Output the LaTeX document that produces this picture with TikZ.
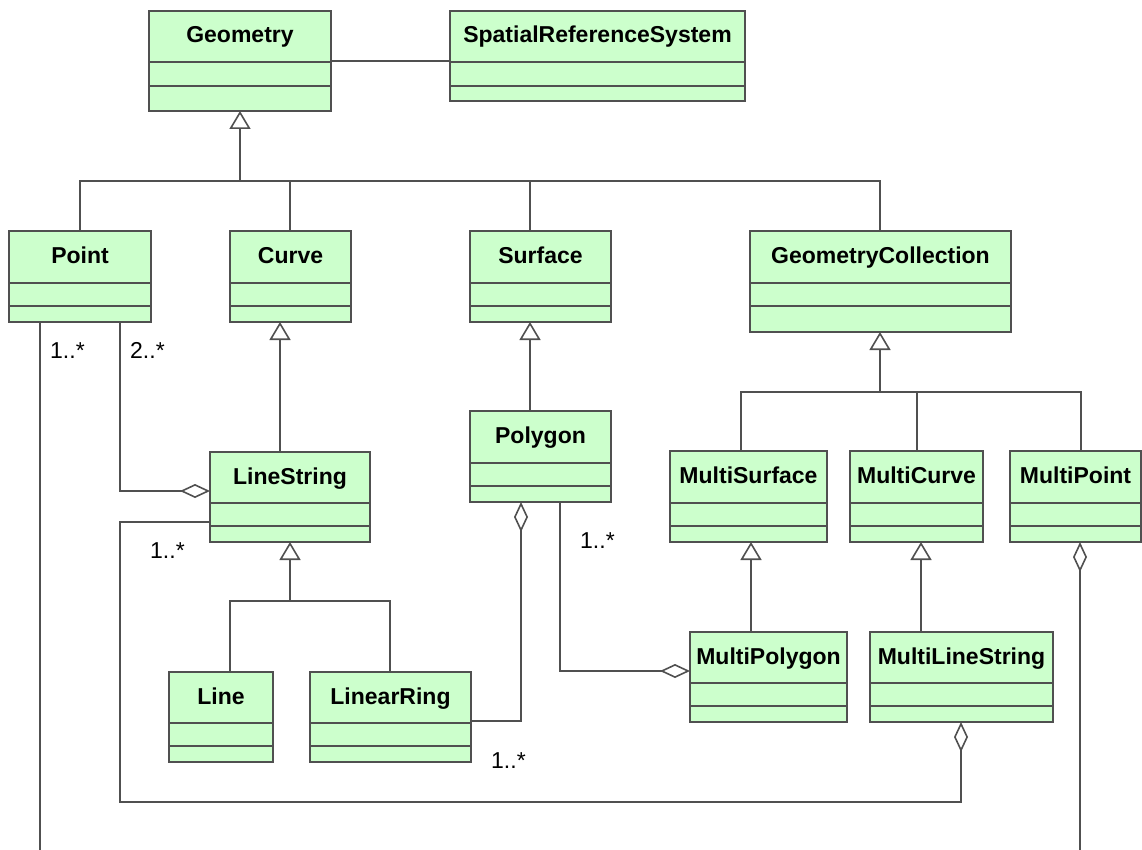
\documentclass[tikz,border=0pt]{standalone}
\usepackage{fontspec}
\setmainfont{Liberation Sans}
\usetikzlibrary{arrows.meta}
\definecolor{boxfill}{HTML}{CCFFCC}
\definecolor{lc}{HTML}{505050}
\tikzset{
  clsbox/.style={draw=lc, fill=boxfill, line width=1.6pt, inner sep=0pt, outer sep=0pt},
  clsline/.style={draw=lc, line width=1.6pt},
  clsname/.style={font=\fontsize{23}{27}\selectfont\bfseries, text=black, inner sep=0pt},
  mult/.style={font=\fontsize{23}{27}\selectfont, text=black, inner sep=0pt, anchor=base west},
  conn/.style={draw=lc, line width=1.6pt, line join=miter},
  gen/.style={conn, -{Triangle[length=18pt,width=21pt,fill=white]}},
  agg/.style={conn, -{Diamond[length=30pt,width=14pt,fill=white]}},
}
\newcommand{\umlcls}[7]{%
  \node[clsbox, minimum width={#4-#2}, minimum height={#5-#3}] (#1) at ({(#2+#4)/2},{(#3+#5)/2}) {};
  \draw[clsline] (#1.west |- 0,#6) -- (#1.east |- 0,#6) (#1.west |- 0,#7) -- (#1.east |- 0,#7);
  \node[clsname, anchor=base] (#1-name) at ({(#2+#4)/2},{#3+32}) {#1};
}
\begin{document}
\begin{tikzpicture}[x=1pt,y=-1pt]
\useasboundingbox (0,0) rectangle (1142,850);
% classes
\umlcls{Geometry}{149}{11}{331}{111}{62}{86}
\umlcls{SpatialReferenceSystem}{450}{11}{745}{101}{62}{86}
\umlcls{Point}{9}{231}{151}{322}{283}{306}
\umlcls{Curve}{230}{231}{351}{322}{283}{306}
\umlcls{Surface}{470}{231}{611}{322}{283}{306}
\umlcls{GeometryCollection}{750}{231}{1011}{332}{283}{306}
\umlcls{LineString}{210}{452}{370}{542}{503}{526}
\umlcls{Polygon}{470}{411}{611}{502}{463}{486}
\umlcls{MultiSurface}{670}{451}{827}{542}{503}{526}
\umlcls{MultiCurve}{850}{451}{983}{542}{503}{526}
\umlcls{MultiPoint}{1010}{451}{1141}{542}{503}{526}
\umlcls{Line}{169}{672}{273}{762}{723}{746}
\umlcls{LinearRing}{310}{672}{471}{762}{723}{746}
\umlcls{MultiPolygon}{690}{632}{847}{722}{683}{706}
\umlcls{MultiLineString}{870}{632}{1053}{722}{683}{706}
% association Geometry -- SRS
\draw[conn] (Geometry.east |- 0,61) -- (SpatialReferenceSystem.west |- 0,61);
% generalization to Geometry
\coordinate (gbus) at (240,181);
\draw[gen] (gbus) -- (Geometry.south);
\draw[conn] (Point.north) -- (80,181) -- (880,181) -- (GeometryCollection.north -| 880,0);
\draw[conn] (Curve.north -| 290,0) -- (290,181);
\draw[conn] (Surface.north -| 530,0) -- (530,181);
% Curve <- LineString, Surface <- Polygon
\draw[gen] (LineString.north -| 280,0) -- (Curve.south -| 280,0);
\draw[gen] (Polygon.north -| 530,0) -- (Surface.south -| 530,0);
% LineString <- Line, LinearRing
\coordinate (lbus) at (290,601);
\draw[gen] (lbus) -- (LineString.south);
\draw[conn] (Line.north -| 230,0) -- (230,601) -- (390,601) -- (LinearRing.north -| 390,0);
% GeometryCollection <- Multi*
\coordinate (cbus) at (880,392);
\draw[gen] (cbus) -- (GeometryCollection.south -| 880,0);
\draw[conn] (MultiSurface.north -| 741,0) -- (741,392) -- (1081,392) -- (MultiPoint.north -| 1081,0);
\draw[conn] (MultiCurve.north -| 917,0) -- (917,392);
% MultiSurface <- MultiPolygon, MultiCurve <- MultiLineString
\draw[gen] (MultiPolygon.north -| 751,0) -- (MultiSurface.south -| 751,0);
\draw[gen] (MultiLineString.north -| 921,0) -- (MultiCurve.south -| 921,0);
% aggregations
\coordinate (pend) at (40,850);
\draw[conn] (Point.south -| 40,0) -- (pend);
\draw[agg] (Point.south -| 120,0) -- (120,491) -- (LineString.west |- 0,491);
\draw[agg] (LineString.west |- 0,522) -- (120,522) -- (120,802) -- (961,802) -- (MultiLineString.south -| 961,0);
\draw[agg] (LinearRing.east |- 0,721) -- (521,721) -- (Polygon.south -| 521,0);
\draw[agg] (Polygon.south -| 560,0) -- (560,671) -- (MultiPolygon.west |- 0,671);
\coordinate (mpend) at (1080,850);
\draw[agg] (mpend) -- (MultiPoint.south -| 1080,0);
% multiplicities
\node[mult] (m1) at (50,358) {1..*};
\node[mult] (m2) at (130,358) {2..*};
\node[mult] (m3) at (150,558) {1..*};
\node[mult] (m4) at (580,548) {1..*};
\node[mult] (m5) at (491,768) {1..*};
\end{tikzpicture}
\end{document}
